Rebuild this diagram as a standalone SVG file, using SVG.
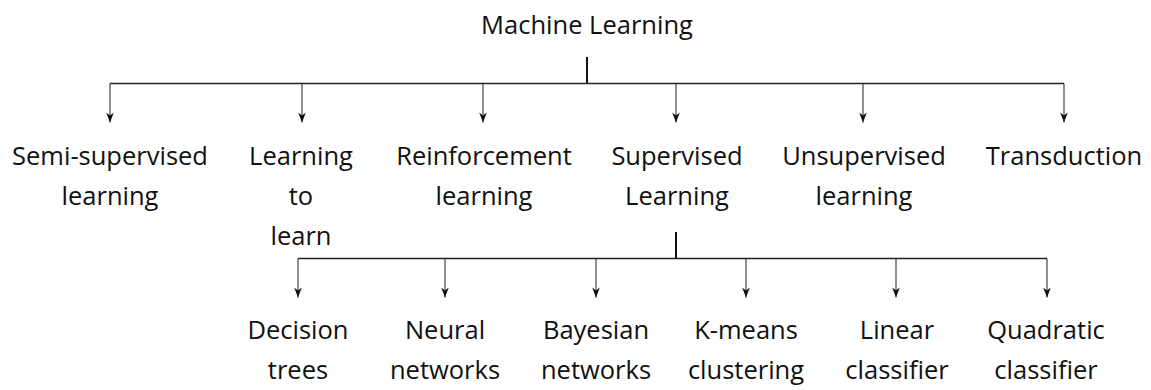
<svg xmlns="http://www.w3.org/2000/svg" width="1151" height="390" viewBox="0 0 1151 390">
<defs>
<marker id="ah" viewBox="-11 -5 11 10" refX="0" refY="0" markerUnits="userSpaceOnUse" markerWidth="11" markerHeight="10" orient="auto" overflow="visible">
<path d="M0,0 L-10,-3.8 L-7,0 L-10,3.8 Z" fill="#111"/>
</marker>
<style>
text{font-family:"Open Sans","DejaVu Sans",sans-serif;font-size:25.5px;fill:#111;text-anchor:middle}
.stub{stroke:#111;stroke-width:2;fill:none}
.bar{stroke:#222;stroke-width:1.4;fill:none}
.arr{stroke:#333;stroke-width:1.1;fill:none;marker-end:url(#ah)}
</style>
</defs>
<rect width="1151" height="390" fill="#fff"/>
<g id="connectors">
<line class="stub" x1="587" y1="57" x2="587" y2="83.5"/>
<line class="bar" x1="110" y1="83.5" x2="1064" y2="83.5"/>
<line class="arr" x1="110" y1="83.5" x2="110" y2="122.5"/>
<line class="arr" x1="302" y1="83.5" x2="302" y2="122.5"/>
<line class="arr" x1="483" y1="83.5" x2="483" y2="122.5"/>
<line class="arr" x1="676" y1="83.5" x2="676" y2="122.5"/>
<line class="arr" x1="863" y1="83.5" x2="863" y2="122.5"/>
<line class="arr" x1="1064" y1="83.5" x2="1064" y2="122.5"/>
<line class="stub" x1="676" y1="232" x2="676" y2="258.5"/>
<line class="bar" x1="298" y1="258.5" x2="1047" y2="258.5"/>
<line class="arr" x1="298" y1="258.5" x2="298" y2="297.5"/>
<line class="arr" x1="445" y1="258.5" x2="445" y2="297.5"/>
<line class="arr" x1="596" y1="258.5" x2="596" y2="297.5"/>
<line class="arr" x1="746" y1="258.5" x2="746" y2="297.5"/>
<line class="arr" x1="896" y1="258.5" x2="896" y2="297.5"/>
<line class="arr" x1="1047" y1="258.5" x2="1047" y2="297.5"/>
</g>
<g id="n-ml"><text x="587" y="34">Machine Learning</text></g>
<g id="n-semi"><text x="110" y="165">Semi-supervised</text><text x="110" y="205">learning</text></g>
<g id="n-l2l"><text x="301" y="165">Learning</text><text x="301" y="205">to</text><text x="301" y="245">learn</text></g>
<g id="n-rl"><text x="484" y="165">Reinforcement</text><text x="484" y="205">learning</text></g>
<g id="n-sup"><text x="677" y="165">Supervised</text><text x="677" y="205">Learning</text></g>
<g id="n-unsup"><text x="864" y="165">Unsupervised</text><text x="864" y="205">learning</text></g>
<g id="n-trans"><text x="1064" y="165">Transduction</text></g>
<g id="n-dt"><text x="298" y="339">Decision</text><text x="298" y="379">trees</text></g>
<g id="n-nn"><text x="445" y="339">Neural</text><text x="445" y="379">networks</text></g>
<g id="n-bn"><text x="596" y="339">Bayesian</text><text x="596" y="379">networks</text></g>
<g id="n-km"><text x="746" y="339">K-means</text><text x="746" y="379">clustering</text></g>
<g id="n-lc"><text x="897" y="339">Linear</text><text x="897" y="379">classifier</text></g>
<g id="n-qc"><text x="1046" y="339">Quadratic</text><text x="1046" y="379">classifier</text></g>
</svg>
